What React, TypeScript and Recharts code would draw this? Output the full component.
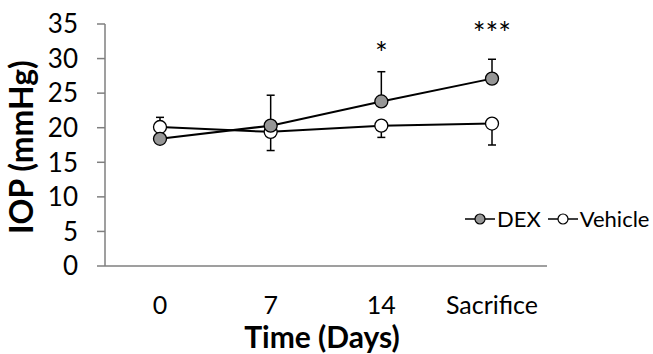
import { LineChart, Line, XAxis, YAxis, ErrorBar, LabelList } from "recharts";

const days = ["0", "7", "14", "Sacrifice"];
const dex = [18.4, 20.3, 23.8, 27.1];
const dexErr = [[0.6, 0], [0, 4.4], [0, 4.3], [0, 2.8]];
const vehicle = [20.1, 19.4, 20.3, 20.6];
const vehicleErr = [[0, 1.4], [2.7, 0], [1.7, 0], [3.1, 0]];
const stars = ["", "", "*", "***"];
const starLevel = [null, null, 31.5, 34.4];
const yTicks = [0, 5, 10, 15, 20, 25, 30, 35];

const data = days.map((day, i) => ({
  day,
  dex: dex[i],
  dexErr: dexErr[i],
  vehicle: vehicle[i],
  vehicleErr: vehicleErr[i],
  star: stars[i],
  starLevel: starLevel[i],
}));

const FONT = "Lato, 'Open Sans', sans-serif";
const AXIS = "#7f7f7f";
const DEX_FILL = "#969696";

function LegendIcon({ fill }: { fill: string }) {
  return (
    <svg width={30} height={14} style={{ marginRight: 2 }}>
      <line x1={0} y1={7} x2={30} y2={7} stroke="#000" strokeWidth={1.5} />
      <circle cx={15} cy={7} r={5} fill={fill} stroke="#000" strokeWidth={1.2} />
    </svg>
  );
}

function ChartLegend() {
  return (
    <div
      style={{
        position: "absolute",
        left: 465,
        top: 205,
        display: "flex",
        alignItems: "center",
        fontFamily: FONT,
        fontSize: 22,
        lineHeight: "28px",
        color: "#000",
        whiteSpace: "nowrap",
      }}
    >
      <LegendIcon fill={DEX_FILL} />
      <span style={{ marginRight: 7 }}>DEX</span>
      <LegendIcon fill="#fff" />
      <span>Vehicle</span>
    </div>
  );
}

function StarLabel(props: any) {
  const { x, y, value } = props;
  if (!value) return null;
  return (
    <text x={x} y={y + 16} textAnchor="middle" fontFamily={FONT} fontSize={30} fill="#000">
      {value}
    </text>
  );
}

export default function App() {
  return (
    <div style={{ position: "absolute", left: 0, top: 0, width: 653, height: 354, background: "#fff" }}>
      <LineChart
        width={653}
        height={354}
        data={data}
        margin={{ top: 24, right: 106, bottom: 0, left: 0 }}
        style={{ fontFamily: FONT }}
      >
        <XAxis
          dataKey="day"
          height={88}
          padding={{ left: 55, right: 55 }}
          stroke={AXIS}
          strokeWidth={1.5}
          tickLine={false}
          tickSize={0}
          tickMargin={30}
          tick={{ fill: "#000", fontSize: 25, fontFamily: FONT }}
          label={{
            content: () => (
              <text x={322} y={348} textAnchor="middle" fontFamily={FONT} fontSize={30} fontWeight="bold" fill="#000">
                Time (Days)
              </text>
            ),
          }}
        />
        <YAxis
          width={105}
          domain={[0, 35]}
          ticks={yTicks}
          interval={0}
          stroke={AXIS}
          strokeWidth={1.5}
          tickSize={8}
          tickMargin={19}
          tick={{ fill: "#000", fontSize: 26, fontFamily: FONT }}
          label={{
            content: () => (
              <text
                x={0}
                y={0}
                transform="translate(33 147) rotate(-90)"
                textAnchor="middle"
                fontFamily={FONT}
                fontSize={32}
                fontWeight="bold"
                fill="#000"
              >
                IOP (mmHg)
              </text>
            ),
          }}
        />
        <Line
          dataKey="vehicle"
          name="Vehicle"
          stroke="#000"
          strokeWidth={2}
          dot={{ r: 6.5, fill: "#fff", stroke: "#000", strokeWidth: 1.3 }}
          isAnimationActive={false}
        >
          <ErrorBar dataKey="vehicleErr" width={4} stroke="#000" strokeWidth={1.5} direction="y" />
        </Line>
        <Line
          dataKey="dex"
          name="DEX"
          stroke="#000"
          strokeWidth={2}
          dot={{ r: 6.5, fill: DEX_FILL, stroke: "#000", strokeWidth: 1.3 }}
          isAnimationActive={false}
        >
          <ErrorBar dataKey="dexErr" width={4} stroke="#000" strokeWidth={1.5} direction="y" />
        </Line>
        <Line dataKey="starLevel" stroke="none" dot={false} activeDot={false} isAnimationActive={false}>
          <LabelList dataKey="star" content={<StarLabel />} />
        </Line>
      </LineChart>
      <ChartLegend />
    </div>
  );
}
